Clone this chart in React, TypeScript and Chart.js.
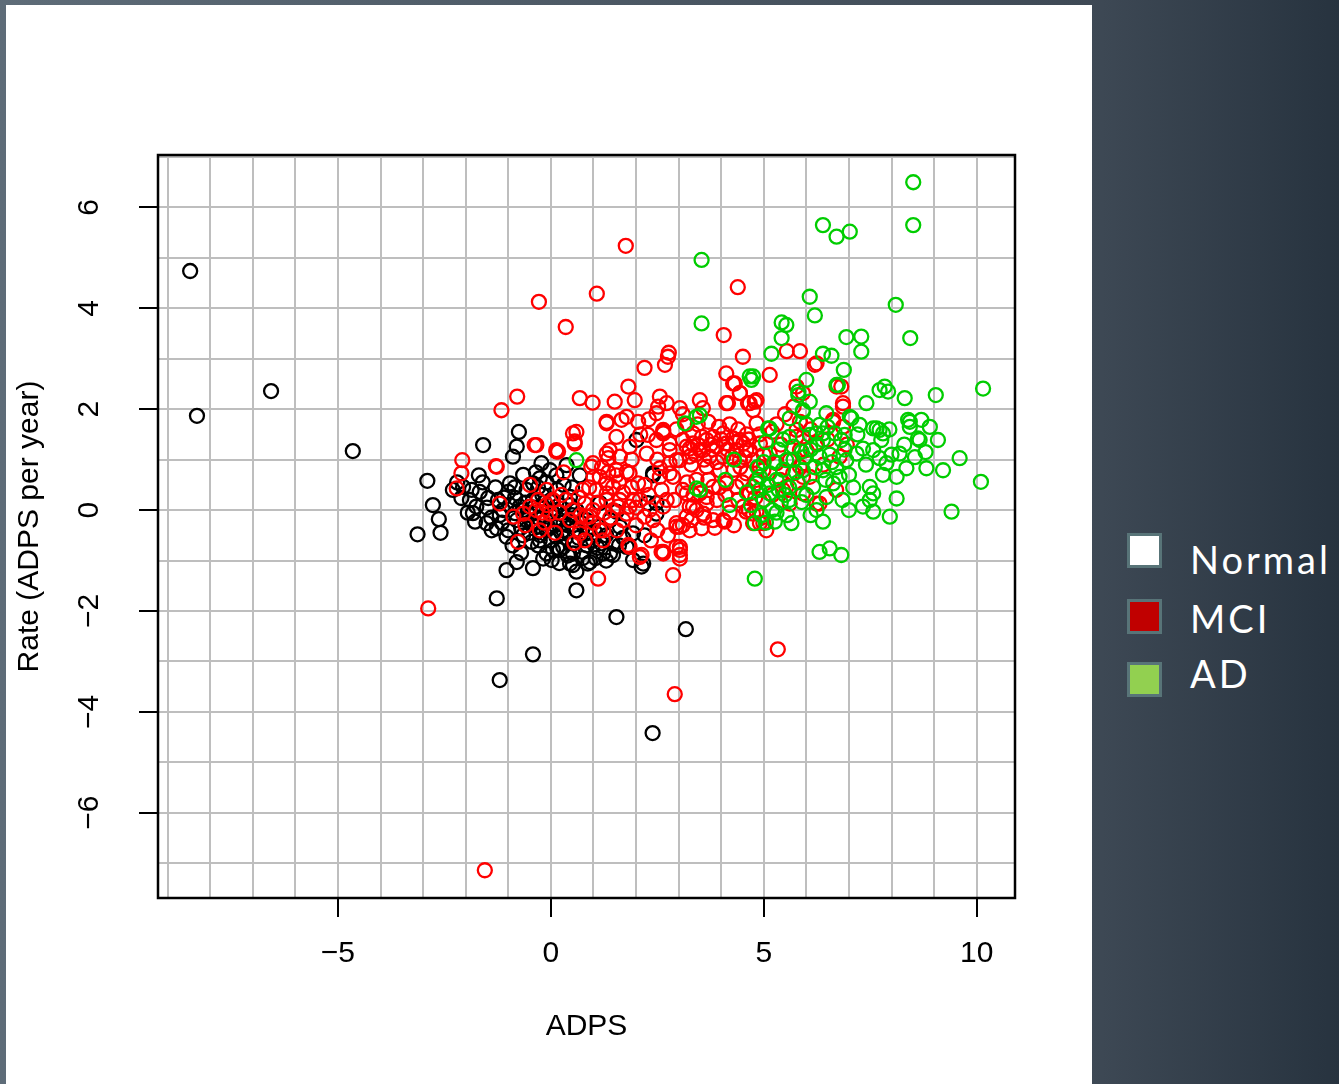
import React, { useEffect, useRef } from 'react';
import { Chart, registerables } from 'chart.js';

Chart.register(...registerables);

// ---- axis definitions ----
const xMin = -9.225;
const xMax = 10.9;
const yMin = -7.69;
const yMax = 7.04;
const xGridValues = [-9, -8, -7, -6, -5, -4, -3, -2, -1, 0, 1, 2, 3, 4, 5, 6, 7, 8, 9, 10];
const yGridValues = [-7, -6, -5, -4, -3, -2, -1, 0, 1, 2, 3, 4, 5, 6, 7];
const xTickLabels = [-5, 0, 5, 10];
const yTickLabels = [-6, -4, -2, 0, 2, 4, 6];
const xTitle = 'ADPS';
const yTitle = 'Rate (ADPS per year)';

// ---- legend (slide legend) ----
const legendLabels = ['Normal', 'MCI', 'AD'];
const legendFills = ['#ffffff', '#c00000', '#92d050'];

// ---- series (ADPS, rate) ----
const normalPoints: number[][] = [
  [-8.47, 4.74], [-8.31, 1.87], [-6.57, 2.36], [-4.65, 1.17],
  [-2.9, 0.58], [-2.77, 0.1], [-2.63, -0.18], [-2.59, -0.45], [-3.13, -0.48],
  [-1.59, 1.29], [-0.75, 1.55], [-0.8, 1.26], [-0.89, 1.06],
  [-1.69, 0.69], [-2.1, 0.24], [-1.86, 0.4], [-1.67, 0.36], [-1.47, 0.24], [-1.83, -0.06], [-1.78, -0.23],
  [-1.39, -0.4], [-1.2, -0.1], [-0.96, 0.53], [-1.0, 0.36], [-0.84, 0.24], [-0.73, 0.07], [-0.8, -0.2], [-1.0, -0.4],
  [-1.04, -1.19], [-0.8, -1.03], [-0.42, -1.15], [-0.18, -0.96], [0.02, -0.99], [0.52, -1.09], [0.6, -1.22],
  [0.92, -1.03], [0.6, -1.59], [-1.27, -1.75], [1.54, -2.12],
  [-0.22, 0.93], [-0.02, 0.79], [0.13, 0.69], [-0.42, 0.53], [-0.26, 0.63], [-0.57, 0.4], [-0.42, 0.2],
  [-0.18, 0.07], [0.05, -0.06], [0.21, -0.2], [0.29, -0.4], [0.13, -0.53], [-0.1, -0.4], [-0.34, -0.33],
  [-0.57, -0.2], [-0.65, 0],
  [0.05, -0.79], [0.29, -0.73], [0.52, -0.66], [0.75, -0.83], [0.99, -0.6], [1.23, -0.86], [1.46, -0.89],
  [1.93, -0.99], [2.13, -1.12], [2.2, -0.5], [1.93, -0.46], [2.01, 1.39], [2.4, 0.69], [2.48, 0.14],
  [1.54, -0.03], [1.15, 0.14], [0.84, -0.2], [0.6, 0], [0.45, 0.26], [0.68, 0.69], [0.37, 0.89],
  [-1.27, -0.36], [-1.51, -0.26], [-1.75, 0.07], [-1.9, 0.2], [-2.3, 0.4], [-2.06, 0.46], [-0.96, 0.1],
  [-0.84, -0.06], [-1.12, 0], [-1.24, 0.2], [-1.04, -0.53], [-0.65, -0.5], [-0.45, -0.63], [-0.26, -0.6],
  [-0.1, -0.86], [0.52, -0.86], [0.84, -0.46], [1.15, -0.33], [1.39, -0.2], [1.62, -0.33], [1.78, -0.73],
  [1.19, -0.66], [1.46, -0.66], [2.48, -0.07], [2.17, -1.06],
  [-1.2, -3.37], [-0.42, -2.86], [3.17, -2.36], [2.39, -4.42],
  [2.28, 0.14], [2.4, 0.73], [0.87, -1.06], [1.39, -0.86], [0.45, -1.06], [0.21, -0.79],
  [-0.5, -0.1], [-0.3, -0.15], [-0.1, -0.2], [0.1, -0.3], [0.3, -0.1], [0.4, -0.3], [0.2, 0.1], [0.0, 0.2],
  [-0.2, 0.3], [-0.4, 0.05], [-0.6, 0.15], [-0.7, -0.35], [-0.5, -0.45], [-0.25, -0.5], [0.0, -0.6],
  [0.35, -0.55], [0.55, -0.4], [0.7, -0.25], [0.85, -0.7], [1.05, -0.45], [1.3, -0.5], [0.15, 0.4],
  [-0.1, 0.55], [0.3, 0.5], [-0.65, 0.7], [-0.35, 0.75], [0.5, 0.45], [-1.3, 0.45], [-1.5, 0.05],
  [-1.15, -0.25], [-0.9, -0.7], [-0.7, -0.85], [0.4, -0.9], [0.2, -1.05], [1.05, -0.95], [1.7, -0.55],
  [-1.6, 0.55], [-1.95, -0.05], [-2.2, 0.55], [-1.4, -0.15],
  [0.1, 0.0], [0.3, -0.25], [-0.05, -0.35], [0.5, -0.1], [0.65, -0.55], [-0.45, -0.25], [-0.3, -0.7],
  [0.15, -0.75], [0.9, -0.35], [1.1, -0.75], [0.45, 0.1], [-0.15, 0.15], [-0.55, -0.05], [0.25, -0.45],
  [0.75, -0.95], [1.6, -0.7], [1.3, -1.0], [-0.85, 0.45], [-1.1, 0.25], [-0.3, 0.45],
];

const mciPoints: number[][] = [
  [1.76, 5.24], [1.08, 4.29], [-0.28, 4.13], [0.35, 3.63], [4.39, 4.42],
  [2.75, 3.04], [2.68, 2.88], [2.2, 2.82], [2.77, 3.12], [4.06, 3.47], [4.51, 3.04], [4.12, 2.71], [4.32, 2.51],
  [5.14, 2.68], [5.54, 3.15], [5.85, 3.15], [6.24, 2.91],
  [1.82, 2.45], [0.68, 2.22], [0.98, 2.13], [1.5, 2.15], [1.97, 2.18], [2.56, 2.25], [2.52, 2.05], [2.48, 1.92],
  [3.03, 2.02], [3.5, 2.18], [3.57, 2.02], [4.12, 2.12], [4.44, 2.32], [4.67, 2.12], [4.83, 2.18], [4.75, 1.98],
  [5.77, 2.45], [5.92, 2.32],
  [1.31, 1.75], [1.66, 1.79], [1.78, 1.85], [2.05, 1.75], [1.54, 1.45], [1.38, 1.19], [1.35, 1.03], [1.62, 1.06],
  [1.85, 1.26], [2.25, 1.12], [2.64, 1.55], [2.48, 1.39], [2.79, 1.19], [2.95, 0.99], [2.56, 0.83], [2.79, 0.73],
  [0.6, 1.55], [0.56, 1.36], [0.13, 1.16], [0.95, 0.86], [1.15, 0.66], [1.31, 0.53], [1.54, 0.69], [1.78, 0.76],
  [2.05, 0.53], [1.93, 0.2], [1.78, -0.07], [1.58, 0.07], [1.31, 0.2], [0.99, 0], [0.84, -0.13], [0.68, -0.4],
  [1.15, -0.4], [1.23, -0.6], [1.85, -0.73], [2.09, -0.93], [2.6, -0.83], [3.03, -0.79], [3.03, -0.96],
  [2.87, -1.29], [1.11, -1.36],
  [2.95, -0.26], [3.19, -0.13], [3.26, 0.07], [3.1, 0.4], [3.42, 0.6], [3.66, 0.26], [3.81, -0.2], [4.05, -0.2],
  [3.58, -0.07],
  [3.1, 1.39], [3.34, 1.52], [3.26, 1.22], [3.5, 1.19], [3.66, 1.39], [3.73, 1.06], [3.89, 1.26], [4.05, 1.52],
  [4.28, 1.42], [4.36, 1.19], [4.52, 1.32], [4.67, 1.19], [4.75, 0.99], [4.83, 0.6], [4.99, 0.79], [4.67, 0.33],
  [4.52, 0.07], [4.75, -0.07], [4.99, -0.26], [5.06, -0.4], [4.75, -0.26],
  [5.61, 0.13], [5.92, 0.33], [5.45, 0.4], [5.38, 0.6], [5.61, 0.99], [5.85, 1.19], [5.92, 1.45], [5.77, 1.59],
  [6.24, 1.33], [6.63, 1.79], [6.86, 1.65], [6.86, 2.05], [6.71, 2.45],
  [3.26, -0.4], [3.42, 0], [2.64, 0.07], [2.32, 0], [2.2, -0.13],
  [-2.08, 0.99], [-2.1, 0.73], [-2.21, 0.43], [-1.27, 0.86], [-0.38, 1.29], [0.13, 1.19], [0.52, 1.52],
  [0.56, 1.32], [1.31, 1.72], [2.28, 1.49], [2.64, 1.52], [1.31, 1.12], [0.99, 0.93], [1.54, 0.79],
  [1.85, 0.73], [-0.49, 0.5], [-0.1, 0.4], [-0.49, 0.07], [-0.88, -0.13], [-0.65, -0.07], [-1.2, 0.13],
  [-0.34, 0], [-0.02, -0.07], [0.05, 0.2], [0.52, 0], [0.8, 0.13], [0.92, -0.13], [1.07, 0.4], [1.31, 0.33],
  [1.46, 0.46], [1.62, 0.2], [1.85, 0.07], [2.09, 0.2], [1.46, 0], [1.23, -0.4], [0.68, -0.46], [-0.77, -0.63],
  [-0.26, -0.4], [1.82, -0.69], [2.13, -0.89], [2.64, -0.86], [2.95, -0.73], [2.95, -0.33], [3.1, -0.3],
  [2.56, 0.66], [2.79, 0.93], [2.72, 0.2], [3.19, 1.26], [-2.88, -1.95],
  [-0.79, 2.25], [-1.16, 1.98], [-1.29, 0.87], [-0.34, 1.29], [0.17, 1.16],
  [4.28, 2.51], [4.44, 2.32], [4.63, 2.12], [4.79, 2.15], [6.2, 2.88], [6.82, 2.45], [6.86, 2.12], [6.63, 1.75],
  [5.85, 1.75], [5.77, 1.45], [6.0, 1.19], [6.78, 1.06], [6.31, 0.13], [6.08, 0.66], [4.16, 2.12], [4.83, 1.72],
  [3.34, 1.32], [3.58, 1.19], [3.81, 1.45], [4.12, 1.32], [4.44, 1.39], [4.59, 1.19], [4.91, 1.32], [5.14, 1.12],
  [5.3, 0.93], [4.91, 0.86], [4.59, 0.73], [4.36, 0.46], [4.12, 0.53], [3.81, 0.46], [3.5, 0.33], [3.19, 0.33],
  [2.87, 0.66], [3.03, 0.99], [2.79, 1.32], [2.64, 1.59], [3.26, 1.06], [3.66, 0.86], [3.97, 0.79], [4.05, 1.06],
  [4.44, 0.99], [4.75, 0.46], [4.99, 0.2], [4.83, -0.03], [4.91, -0.26], [4.59, -0.03], [4.08, -0.23],
  [3.54, -0.36], [3.03, -0.33], [3.66, 0.13], [3.34, 0.07], [3.03, -0.73], [2.64, -0.83], [5.53, 0.46],
  [5.69, 0.73], [5.85, 0.86], [5.92, 0.66], [6.24, 0.13], [2.72, 2.12],
  [-1.55, -7.14], [2.91, -3.65], [5.33, -2.76], [3.03, -0.89],
  [-0.1, 0.1], [0.2, -0.05], [0.35, 0.2], [-0.3, 0.2], [-0.15, -0.25], [0.1, -0.45], [0.45, -0.2], [0.65, 0.25],
  [0.8, -0.6], [1.0, -0.25], [1.1, 0.15], [0.25, 0.3], [-0.6, -0.3], [0.55, -0.65], [0.9, 0.45], [1.4, -0.15],
  [1.7, 0.35], [2.0, -0.3], [2.3, 0.3], [2.5, -0.4], [1.2, 0.85], [0.3, 0.75], [-0.2, -0.05],
  [3.45, 1.7], [3.7, 1.75], [3.95, 1.65], [3.2, 1.7], [4.2, 1.7], [4.4, 1.6], [4.6, 1.5], [4.3, 0.8],
  [4.5, 0.55], [3.9, 0.2], [4.2, -0.05], [4.4, 0.2], [5.2, 0.3], [5.0, 1.1], [5.2, 1.55], [5.4, 1.3],
  [5.5, 1.9], [5.7, 2.05], [6.1, 1.6], [6.5, 1.4], [6.4, 0.9], [6.7, 0.4], [6.95, 1.3],
  [3.4, 1.1], [3.6, 1.0], [3.8, 1.2], [4.0, 1.4], [3.55, 1.45], [3.3, 0.9], [3.9, 0.95], [4.15, 1.2],
  [4.35, 1.35], [4.55, 1.05], [3.75, 1.3], [3.45, 1.3], [4.25, 1.05], [4.65, 1.4], [4.45, 0.85], [3.7, 0.6],
  [3.95, 0.45], [3.2, 0.55], [4.8, 0.25], [4.65, 0.0], [3.6, -0.15], [3.3, -0.2], [2.9, 0.2], [2.6, 0.4],
  [2.4, -0.2], [2.2, 0.5], [2.0, 0.05], [1.7, -0.2], [1.9, 0.45], [1.6, 0.55], [1.35, 0.75], [1.0, 0.65],
  [0.75, 0.4], [0.7, -0.1], [1.25, -0.05], [1.55, -0.4], [2.35, -0.6], [2.75, -0.5], [3.35, 0.3], [2.95, 1.6],
  [3.1, 1.9], [2.3, 1.8], [2.1, 1.5], [1.9, 1.0], [2.5, 1.0], [4.9, 1.5], [5.3, 1.7], [4.1, 0.3],
  [4.3, -0.3], [3.85, -0.35],
];

const adPoints: number[][] = [
  [8.51, 6.5], [8.51, 5.65], [6.39, 5.65], [6.71, 5.42], [7.02, 5.52], [3.54, 4.96], [6.08, 4.23], [6.2, 3.86],
  [8.1, 4.07], [3.54, 3.7], [5.42, 3.72], [5.53, 3.67], [5.42, 3.41], [5.18, 3.1], [6.94, 3.43], [7.29, 3.44],
  [7.29, 3.14], [6.39, 3.1], [6.59, 3.06], [8.44, 3.41], [6.88, 2.78], [6.0, 2.58], [4.75, 2.65], [4.71, 2.58],
  [10.15, 2.41], [9.04, 2.28], [8.31, 2.22], [7.72, 2.38], [7.84, 2.45], [7.92, 2.35], [6.71, 2.48], [7.41, 2.12],
  [5.81, 2.28], [7.25, 1.69], [7.02, 1.85], [8.43, 1.75], [8.7, 1.79], [8.9, 1.65], [8.62, 1.42], [9.09, 1.39],
  [7.65, 1.62], [7.8, 1.52], [6.39, 1.52], [5.92, 1.95], [5.61, 1.82], [5.14, 1.62], [6.9, 1.49],
  [6.74, 2.48], [5.81, 2.35], [6.08, 2.15], [6.47, 1.92], [7.06, 1.82], [7.57, 1.62], [7.72, 1.59], [8.39, 1.79],
  [8.43, 1.65], [8.66, 1.39], [9.6, 1.03], [10.1, 0.56], [9.21, 0.79], [8.82, 0.83], [8.35, 0.83], [8.19, 1.12],
  [8.12, 0.66], [7.88, 0.93], [7.72, 1.03], [7.57, 1.19], [7.76, 1.39], [7.33, 1.22], [7.18, 1.12], [6.94, 0.99],
  [6.78, 0.66], [6.63, 0.53], [6.39, 0.79], [6.31, 1.06], [6.39, 1.39], [6.67, 1.52], [6.82, 1.39], [7.49, 0.46],
  [7.57, 0.33], [7.49, 0.2], [7.33, 0.07], [7.57, -0.03], [7.96, -0.13], [8.12, 0.23], [9.41, -0.03],
  [5.92, 0.79], [6.16, 0.46], [6.47, 0.26], [6.24, 0], [6.39, -0.23], [5.89, 0.16], [5.65, -0.26], [5.26, -0.23],
  [4.79, -0.26], [4.2, 0.1], [6.31, -0.83], [6.55, -0.76], [6.82, -0.89], [4.79, -1.36], [4.91, 0.66],
  [5.14, 0.73], [5.3, 0.6], [5.14, 0.33], [4.83, 0.53], [5.89, 1.16], [5.69, 1.26], [6.08, 1.49], [6.24, 1.52],
  [6.31, 1.69], [5.92, 1.98], [5.1, 1.62], [5.53, 0.99], [3.42, 0.43], [4.67, 2.65], [3.5, 1.88], [0.6, 0.99],
  [3.15, 1.72], [3.5, 0.4], [3.42, 1.85],
  [5.0, 0.2], [5.2, 0.0], [5.4, 0.15], [5.6, 0.45], [5.8, 0.55], [6.0, 0.3], [5.45, 0.8], [5.7, 1.0], [6.1, 1.2],
  [6.55, 1.1], [6.2, 0.85], [5.35, 1.2], [5.0, 0.95], [4.7, 0.1], [4.85, 0.85], [5.05, 1.35], [5.6, 1.45],
  [6.6, 0.95], [7.0, 0.7], [7.1, 0.45], [5.3, -0.05], [4.95, -0.1], [4.6, 0.35], [5.5, 0.3], [6.9, 1.2],
  [7.2, 1.5], [8.0, 1.1], [8.3, 1.3], [7.95, 1.6], [8.55, 1.05], [8.8, 1.15], [4.3, 1.0], [4.1, 0.6],
  [5.1, 0.5], [5.35, 0.4], [5.6, 0.2], [5.75, 0.75], [5.95, 1.05], [6.25, 1.3], [6.45, 0.6], [6.7, 0.85],
  [6.85, 0.2], [5.25, 0.95], [5.45, 1.4], [6.0, 1.7], [6.5, 1.65], [7.4, 0.9], [7.8, 0.7], [4.9, 0.4],
  [5.05, -0.25], [5.55, -0.1], [6.1, -0.1], [7.0, 0.0],
];

const seriesNames = ['Normal', 'MCI', 'AD'];
const seriesColors = ['#000000', '#ff0000', '#00cd00'];

const FONT = "'Liberation Sans', Arial, Helvetica, sans-serif";

const fmt = (v: number) => (v < 0 ? '\u2212' + Math.abs(v) : String(v));

const boxPlugin = {
  id: 'boxPlugin',
  afterDatasetsDraw(chart: any) {
    const { ctx, chartArea } = chart;
    ctx.save();
    ctx.strokeStyle = '#000';
    ctx.lineWidth = 2.5;
    ctx.strokeRect(chartArea.left, chartArea.top, chartArea.right - chartArea.left, chartArea.bottom - chartArea.top);
    ctx.restore();
  },
};

export default function App() {
  const ref = useRef<HTMLCanvasElement | null>(null);

  useEffect(() => {
    if (!ref.current) return;
    const toXY = (pts: number[][]) => pts.map((p) => ({ x: p[0], y: p[1] }));
    const all = [normalPoints, mciPoints, adPoints];
    const order = [2, 1, 0];
    const datasets = order.map((i) => ({
      label: seriesNames[i],
      data: toXY(all[i]),
      borderColor: seriesColors[i],
      backgroundColor: 'rgba(0,0,0,0)',
      pointRadius: 7,
      pointHoverRadius: 7,
      pointBorderWidth: 2.3,
      pointStyle: 'circle',
      showLine: false,
    }));

    const chart = new Chart(ref.current, {
      type: 'scatter',
      data: { datasets },
      options: {
        animation: false,
        responsive: false,
        devicePixelRatio: 1,
        layout: { padding: { top: 150, right: 77, bottom: 0, left: 0 } },
        plugins: { legend: { display: false }, tooltip: { enabled: false } },
        events: [],
        scales: {
          x: {
            type: 'linear',
            min: xMin,
            max: xMax,
            afterBuildTicks: (s: any) => {
              s.ticks = xGridValues.map((value) => ({ value }));
            },
            afterFit: (s: any) => {
              s.height = 186;
            },
            border: { display: false },
            grid: {
              color: '#bebebe',
              lineWidth: 2,
              drawTicks: true,
              tickLength: 19,
              tickWidth: 2,
              tickColor: (c: any) => (c.tick && xTickLabels.includes(c.tick.value) ? '#000000' : 'rgba(0,0,0,0)'),
            },
            ticks: {
              autoSkip: false,
              maxRotation: 0,
              minRotation: 0,
              padding: 19,
              color: '#000',
              font: { family: FONT, size: 30 },
              callback: (v: any) => (xTickLabels.includes(Number(v)) ? fmt(Number(v)) : ''),
            },
            title: {
              display: true,
              text: xTitle,
              color: '#000',
              font: { family: FONT, size: 30 },
              padding: { top: 0, bottom: 39 },
            },
          },
          y: {
            type: 'linear',
            min: yMin,
            max: yMax,
            afterBuildTicks: (s: any) => {
              s.ticks = yGridValues.map((value) => ({ value }));
            },
            afterFit: (s: any) => {
              s.width = 152;
            },
            border: { display: false },
            grid: {
              color: '#bebebe',
              lineWidth: 2,
              drawTicks: true,
              tickLength: 19,
              tickWidth: 2,
              tickColor: (c: any) => (c.tick && yTickLabels.includes(c.tick.value) ? '#000000' : 'rgba(0,0,0,0)'),
            },
            ticks: {
              autoSkip: false,
              minRotation: 90,
              maxRotation: 90,
              crossAlign: 'center',
              padding: 32,
              color: '#000',
              font: { family: FONT, size: 30 },
              callback: (v: any) => (yTickLabels.includes(Number(v)) ? fmt(Number(v)) : ''),
            },
            title: {
              display: true,
              text: yTitle,
              color: '#000',
              font: { family: FONT, size: 30 },
              padding: { top: 6, bottom: 0 },
            },
          },
        },
      } as any,
      plugins: [boxPlugin],
    });
    return () => chart.destroy();
  }, []);

  return (
    <div
      style={{
        position: 'absolute',
        left: 0,
        top: 0,
        width: 1339,
        height: 1084,
        overflow: 'hidden',
        background: 'linear-gradient(90deg, #5e6c78 0%, #3e4955 81.5%, #27333f 100%)',
      }}
    >
      <div style={{ position: 'absolute', left: 6, top: 5, width: 1086, height: 1079, background: '#ffffff' }}>
        <canvas ref={ref} width={1086} height={1079} style={{ display: 'block' }} />
      </div>
      {legendLabels.map((lab, i) => (
        <React.Fragment key={lab}>
          <div
            style={{
              position: 'absolute',
              left: 1127,
              top: [533, 599, 662][i],
              width: 35,
              height: 35,
              boxSizing: 'border-box',
              border: '3px solid #587478',
              background: legendFills[i],
            }}
          />
          <div
            style={{
              position: 'absolute',
              left: 1190,
              top: [540, 599, 654][i],
              height: 38,
              lineHeight: '38px',
              fontSize: 38,
              fontFamily: "Lato, 'Noto Sans', sans-serif",
              color: '#ffffff',
              whiteSpace: 'nowrap',
              letterSpacing: 3,
            }}
          >
            {lab}
          </div>
        </React.Fragment>
      ))}
    </div>
  );
}
